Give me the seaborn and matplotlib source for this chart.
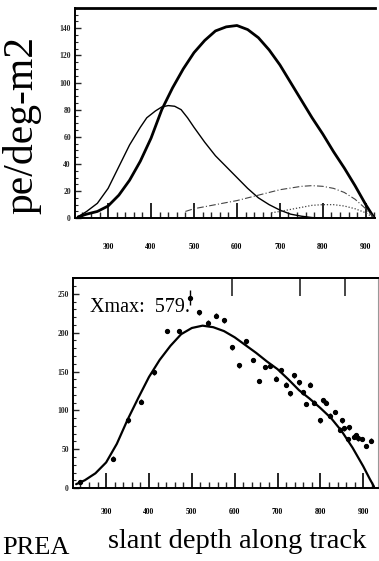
import numpy as np
import pandas as pd
import matplotlib
matplotlib.use("Agg")
import matplotlib.pyplot as plt
from matplotlib.ticker import MultipleLocator
import seaborn as sns

# ------------------------
# DATA
# ------------------------

# upper panel: longitudinal light profile components
depth_top = [230, 250, 275, 300, 325, 350, 375, 400, 425, 450, 475, 500, 525, 550,
             575, 600, 625, 650, 675, 700, 725, 750, 775, 800, 825, 850, 875, 900, 920]
total_light = [1, 3, 5, 9, 17, 28, 42, 59, 80, 96, 110, 122, 131, 138,
               141, 142, 139, 133, 124, 113, 100, 87, 74, 62, 49, 37, 24, 10, 0]

depth_direct = [230, 250, 275, 300, 325, 350, 375, 390, 410, 425, 440, 455, 470, 485,
                500, 525, 550, 575, 600, 625, 650, 675, 700, 725, 750, 775, 800]
direct_light = [1, 5, 11, 22, 38, 54, 67, 74, 79, 82, 83, 82.5, 80, 74,
                67, 56, 46, 38, 30, 22, 15, 10, 6, 3, 1.5, 0.5, 0]

depth_scatter = [480, 500, 550, 600, 650, 700, 750, 775, 800, 825, 850, 875, 900, 920]
scatter_light = [5, 7, 10, 13, 17, 21, 23.5, 24, 23.5, 22, 19, 14, 7, 0]

depth_other = [680, 700, 725, 750, 775, 800, 825, 850, 875, 900, 920]
other_light = [4, 5, 6.5, 8, 9.5, 10, 10, 9, 7, 4, 0]

# lower panel: shower profile fit and measured points
depth_fit = [230, 250, 275, 300, 325, 350, 375, 400, 425, 450, 475, 500, 525, 550,
             575, 600, 625, 650, 675, 700, 725, 750, 775, 800, 825, 850, 875, 900, 915, 925]
fit_size = [5, 10, 19, 33, 57, 88, 116, 143, 165, 183, 198, 206, 209, 207,
            202, 194, 184, 174, 163, 153, 140, 126, 115, 103, 90, 73, 52, 28, 12, 2]

depth_pts = [240, 316, 352, 382, 411, 442, 469, 495, 517, 537, 557, 576, 594, 611,
             627, 643, 656, 670, 683, 696, 707, 719, 728, 739, 749, 759, 767, 776,
             784, 798, 806, 812, 822, 833, 845, 851, 856, 864, 867, 878, 884, 887,
             897, 907, 917]
size_pts = [8, 38, 87, 111, 149, 202, 202, 245, 226, 213, 222, 216, 181, 158,
            189, 165, 138, 156, 157, 141, 152, 133, 122, 145, 136, 123, 108, 133,
            110, 87, 113, 110, 93, 98, 75, 87, 77, 63, 78, 66, 68, 64,
            63, 54, 61]
err_pts = [3] * len(depth_pts)
err_pts[7] = 10

top_marks = [594, 753, 858]
xmax_label = "Xmax:  579."

x_ticks = [300, 400, 500, 600, 700, 800, 900]

# ------------------------
# STYLE
# ------------------------

sns.set_theme(style="ticks")
plt.rcParams["font.family"] = ["Liberation Serif", "DejaVu Serif"]
plt.rcParams["axes.linewidth"] = 1.4

fig = plt.figure(figsize=(3.79, 5.61), dpi=100)
fig.patch.set_facecolor("white")

ax1 = fig.add_axes([0.198, 0.611, 0.792, 0.375])
ax2 = fig.add_axes([0.193, 0.130, 0.805, 0.374])


def style_axis(ax, ymajor, yminor, xpad):
    ax.set_facecolor("white")
    ax.set_xticks(x_ticks)
    ax.xaxis.set_minor_locator(MultipleLocator(20))
    ax.yaxis.set_major_locator(MultipleLocator(ymajor))
    ax.yaxis.set_minor_locator(MultipleLocator(yminor))
    ax.tick_params(axis="x", which="major", direction="in", length=11, width=1.2,
                   pad=xpad, labelsize=5.5, colors="black")
    ax.tick_params(axis="x", which="minor", direction="in", length=4, width=1.0)
    ax.tick_params(axis="y", which="major", direction="in", length=4, width=1.0,
                   pad=3, labelsize=5.5)
    ax.tick_params(axis="y", which="minor", direction="in", length=2, width=0.8)
    for lab in ax.get_xticklabels() + ax.get_yticklabels():
        lab.set_fontweight("bold")
    ax.set_xlabel("")
    ax.set_ylabel("")
    for sp in ax.spines.values():
        sp.set_color("black")


# ------------------------
# UPPER PANEL
# ------------------------

sns.lineplot(x=depth_top, y=total_light, ax=ax1, color="black", linewidth=2.0)
sns.lineplot(x=depth_direct, y=direct_light, ax=ax1, color="black", linewidth=1.0)
sns.lineplot(x=depth_scatter, y=scatter_light, ax=ax1, color="#444444", linewidth=0.8,
             linestyle=(0, (6, 2, 1, 2)))
sns.lineplot(x=depth_other, y=other_light, ax=ax1, color="#444444", linewidth=0.9,
             linestyle=(0, (1, 1.5)))

ax1.set_xlim(223, 922)
ax1.set_ylim(0, 155)
style_axis(ax1, 20, 5, 18)
ax1.spines["right"].set_visible(False)
ax1.spines["top"].set_linewidth(2.0)

# ------------------------
# LOWER PANEL
# ------------------------

sns.lineplot(x=depth_fit, y=fit_size, ax=ax2, color="black", linewidth=1.6)
ax2.errorbar(depth_pts, size_pts, yerr=err_pts, fmt="o", color="black",
             markersize=2.8, elinewidth=1.0, capsize=0)

ax2.set_xlim(223, 935)
ax2.set_ylim(0, 270)
style_axis(ax2, 50, 10, 14)
ax2.spines["right"].set_color("#999999")
ax2.spines["right"].set_linewidth(0.8)

top_ax = ax2.secondary_xaxis("top")
top_ax.set_xticks(top_marks, labels=[])
top_ax.tick_params(direction="in", length=13, width=1.2)
top_ax.xaxis.set_minor_locator(MultipleLocator(1000))

ax2.text(0.056, 0.838, xmax_label, transform=ax2.transAxes, fontsize=14.5,
         ha="left", va="baseline", color="black")

# ------------------------
# FIGURE LABELS
# ------------------------

fig.text(0.058, 0.777, "pe/deg-m2", rotation=90, fontsize=30,
         ha="center", va="center", color="black")
fig.text(0.285, 0.023, "slant depth along track", fontsize=20.5,
         ha="left", va="baseline", color="black")
fig.text(0.005, 0.004, "PREA", fontsize=19, ha="left", va="bottom", color="black")

fig.savefig("out.png", dpi=100, facecolor="white")
